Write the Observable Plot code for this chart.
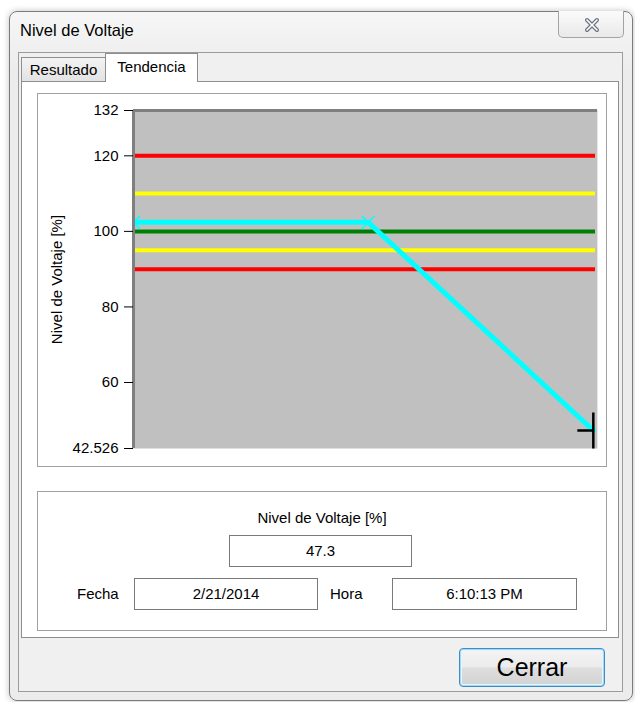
<!DOCTYPE html>
<html>
<head>
<meta charset="utf-8">
<script src="https://cdn.jsdelivr.net/npm/d3@7"></script>
<script src="https://cdn.jsdelivr.net/npm/@observablehq/plot@0.6"></script>
<style>
  html, body { margin: 0; padding: 0; background: #ffffff; width: 635px; height: 702px; overflow: hidden; }
  body { font-family: "Liberation Sans", Arial, sans-serif; color: #000; position: relative; }
  .abs { position: absolute; box-sizing: border-box; }
  #win { left: 9px; top: 11px; width: 624px; height: 690px; border: 1px solid #7b7b7b; border-radius: 8px;
         background: linear-gradient(#f6f6f6, #ececec 60px, #ececec); box-shadow: 0 0 6px rgba(0,0,0,0.25); }
  #title { left: 20px; top: 21px; font-size: 16.5px; color: #000; }
  #close { left: 558px; top: 11px; width: 66px; height: 27px; border: 1px solid #a3a3a3; border-top: none;
           border-radius: 0 0 5px 5px; background: linear-gradient(#fbfbfb, #e9e9e9); }
  #client { left: 18px; top: 52px; width: 605px; height: 640px; border: 1px solid #9c9c9c; background: #f0f0f0; }
  .tab { top: 57px; height: 25px; border: 1px solid #8c8e90; border-bottom: none; font-size: 15px; text-align: center; line-height: 24px; }
  #tab1 { left: 21px; width: 85px; background: linear-gradient(#f3f3f3, #e2e2e2); }
  #tab2 { left: 105px; top: 53px; height: 29px; width: 93px; background: #fff; line-height: 26px; z-index: 3; }
  #panel { left: 21px; top: 81px; width: 598px; height: 557px; border: 1px solid #8c8e90; background: #fff; z-index: 2; }
  #box1 { left: 37px; top: 93px; width: 570px; height: 374px; border: 1px solid #a0a0a0; background: #fff; z-index: 4; }
  #chart { left: 38px; top: 94px; z-index: 5; }
  #box2 { left: 37px; top: 491px; width: 570px; height: 140px; border: 1px solid #a0a0a0; background: #fff; z-index: 4; }
  .lbl { font-size: 15px; z-index: 6; white-space: nowrap; }
  .tb { border: 1px solid #7a7a7a; background: #fff; font-size: 15px; text-align: center; z-index: 6; line-height: 29px; }
  #btn { left: 459px; top: 648px; width: 146px; height: 39px; border: 1px solid #3c8fc8; border-radius: 4px;
         background: linear-gradient(#f4f4f4 0%, #ececec 48%, #dedede 52%, #d2d2d2 100%);
         box-shadow: inset 0 0 0 1px #9fd8f4, inset 0 0 0 2px #e9f6fd; font-size: 25px; text-align: center; line-height: 37px; z-index: 6; }
</style>
</head>
<body>
<div id="win" class="abs"></div>
<div id="title" class="abs">Nivel de Voltaje</div>
<div id="close" class="abs">
  <svg width="66" height="27" style="position:absolute;left:0;top:0">
    <path d="M28 9 L38 19 M38 9 L28 19" stroke="#6b7581" stroke-width="4" stroke-linecap="round"/>
    <path d="M28 9 L38 19 M38 9 L28 19" stroke="#ffffff" stroke-width="1.6" stroke-linecap="round"/>
  </svg>
</div>
<div id="client" class="abs"></div>
<div id="tab1" class="abs tab">Resultado</div>
<div id="tab2" class="abs tab">Tendencia</div>
<div id="panel" class="abs"></div>
<div id="box1" class="abs"></div>
<div id="chart" class="abs"></div>
<div id="box2" class="abs"></div>
<div class="abs lbl" style="left:37px;width:570px;top:509px;text-align:center;">Nivel de Voltaje [%]</div>
<div class="abs tb" style="left:229px;top:535px;width:183px;height:32px;">47.3</div>
<div class="abs lbl" style="left:77px;top:585px;">Fecha</div>
<div class="abs tb" style="left:134px;top:578px;width:184px;height:32px;">2/21/2014</div>
<div class="abs lbl" style="left:330px;top:585px;">Hora</div>
<div class="abs tb" style="left:392px;top:578px;width:185px;height:32px;">6:10:13 PM</div>
<div id="btn" class="abs">Cerrar</div>

<script>
// ---- data ----
const yTicks = [42.526, 60, 80, 100, 120, 132];
const yDomain = [42.526, 132];
const xDomain = [0, 100];
const limitValues = [120, 110, 100, 95, 90];
const limitColors = ["#ff0000", "#ffff00", "#008000", "#ffff00", "#ff0000"];
const trendX = [0, 50.6, 99.1];
const trendY = [102.4, 102.4, 47.3];
const axisLabel = "Nivel de Voltaje [%]";

const limits = limitValues.map((v, i) => ({v, c: limitColors[i]}));
const trend = trendX.map((x, i) => ({x, y: trendY[i]}));
const lastPoint = [trend[trend.length - 1]];

const cursorSymbol = {
  draw(ctx) {
    ctx.moveTo(0, -18); ctx.lineTo(0, 18);
    ctx.moveTo(-16, 0); ctx.lineTo(0, 0);
  }
};

const chart = Plot.plot({
  width: 567,
  height: 372,
  marginLeft: 95,
  marginRight: 8,
  marginTop: 16,
  marginBottom: 18,
  style: {fontFamily: "Liberation Sans, Arial, sans-serif", fontSize: "15px", color: "#000", background: "transparent", overflow: "visible"},
  x: {domain: xDomain, axis: null},
  y: {domain: yDomain},
  marks: [
    Plot.frame({fill: "#c0c0c0", stroke: null}),
    Plot.ruleY(limits, {y: "v", stroke: "c", strokeWidth: 4, insetLeft: 2, insetRight: 2}),
    Plot.line(trend, {x: "x", y: "y", stroke: "#00ffff", strokeWidth: 5, strokeLinecap: "round", clip: true}),
    Plot.dot(trend.slice(0, 2), {x: "x", y: "y", symbol: "times", r: 6, stroke: "#00ffff", strokeWidth: 1.5, clip: true}),
    Plot.dot(lastPoint, {x: "x", y: "y", symbol: cursorSymbol, stroke: "#000", strokeWidth: 2.5}),
    Plot.ruleX([xDomain[0]], {stroke: "#7f7f7f", strokeWidth: 3}),
    Plot.ruleY([yDomain[1]], {stroke: "#7f7f7f", strokeWidth: 3}),
    Plot.ruleX([xDomain[1]], {stroke: "#e6e6e6", strokeWidth: 1}),
    Plot.axisY({
      ticks: yTicks,
      tickFormat: d => String(d),
      tickSize: 9,
      tickPadding: 6,
      stroke: "#000",
      label: axisLabel,
      labelAnchor: "center",
      labelArrow: "none",
      labelOffset: 82
    })
  ]
});
document.getElementById("chart").appendChild(chart);
</script>
</body>
</html>
